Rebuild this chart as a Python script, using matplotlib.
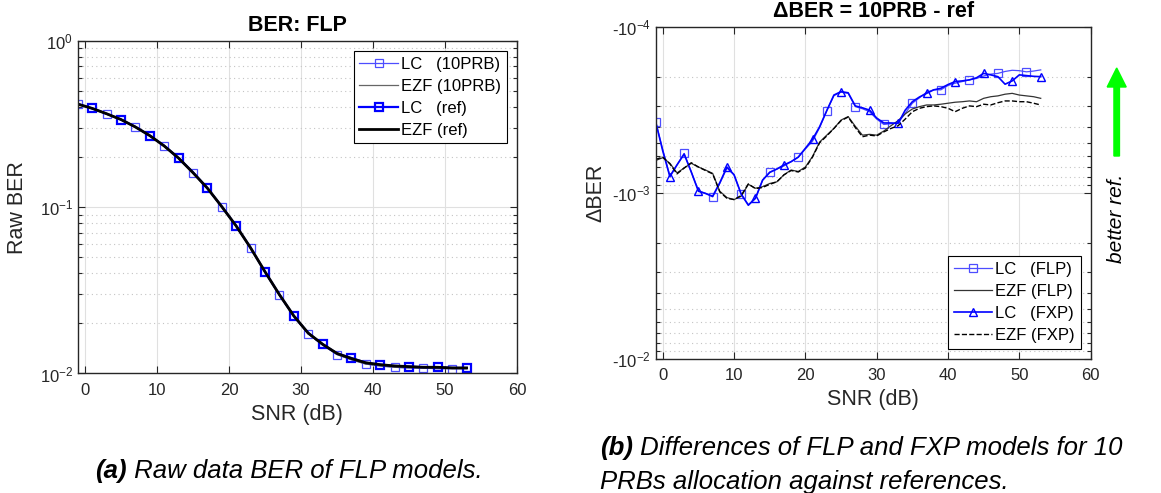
import numpy as np
import matplotlib
matplotlib.use('Agg')
import matplotlib.pyplot as plt
from matplotlib.ticker import FuncFormatter, LogLocator, NullFormatter
from matplotlib.patches import FancyArrow
from matplotlib.transforms import IdentityTransform

plt.rcParams['font.family'] = ['Liberation Sans', 'DejaVu Sans']
plt.rcParams['mathtext.fontset'] = 'custom'
plt.rcParams['mathtext.rm'] = 'Liberation Sans'
plt.rcParams['mathtext.it'] = 'Liberation Sans:italic'
plt.rcParams['mathtext.bf'] = 'Liberation Sans:bold'
plt.rcParams['mathtext.default'] = 'regular'

# ---- (a) raw BER, FLP models ----
snr_a = [-1, 1, 3, 5, 7, 9, 11, 13, 15, 17, 19, 21, 23, 25, 27,
         29, 31, 33, 35, 37, 39, 41, 43, 45, 47, 49, 51, 53]
ber_lc_10prb = [0.416, 0.391, 0.363, 0.335, 0.303, 0.268, 0.233, 0.196, 0.161, 0.129,
                0.1005, 0.0768, 0.0567, 0.0407, 0.0296, 0.0220, 0.0173, 0.0148, 0.0130,
                0.0121, 0.0114, 0.0111, 0.0109, 0.0108, 0.01075, 0.0107, 0.0107, 0.0107]
ber_ezf_10prb = [0.415, 0.391, 0.363, 0.335, 0.302, 0.268, 0.232, 0.196, 0.160, 0.129,
                 0.1003, 0.0767, 0.0566, 0.0407, 0.0296, 0.0221, 0.0173, 0.0149, 0.0130,
                 0.0121, 0.0114, 0.0111, 0.0109, 0.0108, 0.0108, 0.0107, 0.0107, 0.0107]
ber_lc_ref = [0.417, 0.392, 0.364, 0.336, 0.304, 0.269, 0.234, 0.197, 0.162, 0.130,
              0.1008, 0.0771, 0.0570, 0.0409, 0.0298, 0.0222, 0.0175, 0.0150, 0.0132,
              0.0124, 0.0116, 0.0113, 0.0111, 0.0110, 0.0109, 0.0109, 0.0108, 0.0108]
ber_ezf_ref = [0.416, 0.392, 0.364, 0.336, 0.303, 0.269, 0.233, 0.197, 0.161, 0.130,
               0.1006, 0.0770, 0.0569, 0.0409, 0.0298, 0.0222, 0.0175, 0.0150, 0.0132,
               0.0123, 0.0116, 0.0113, 0.0111, 0.0110, 0.0109, 0.0109, 0.0108, 0.0108]

# ---- (b) delta BER = 10PRB - ref ----
snr_b = list(range(-1, 54))
d_lc_flp = [-3.73e-4, -5.5e-4, -7.9e-4, -6.8e-4, -5.8e-4, -7.5e-4, -9.7e-4, -1.01e-3,
            -1.06e-3, -8.8e-4, -7.1e-4, -7.8e-4, -1.02e-3, -1.18e-3, -1.08e-3, -8.4e-4,
            -7.5e-4, -7.2e-4, -6.9e-4, -6.5e-4, -6.12e-4, -5.45e-4, -4.9e-4, -4.05e-4,
            -3.21e-4, -2.6e-4, -2.48e-4, -2.52e-4, -3.03e-4, -3.12e-4, -3.25e-4, -3.6e-4,
            -3.88e-4, -3.84e-4, -3.8e-4, -3.33e-4, -2.89e-4, -2.68e-4, -2.48e-4, -2.4e-4,
            -2.4e-4, -2.26e-4, -2.19e-4, -2.14e-4, -2.09e-4, -2.05e-4, -1.98e-4, -1.93e-4,
            -1.91e-4, -1.86e-4, -1.83e-4, -1.84e-4, -1.87e-4, -1.85e-4, -1.82e-4]
d_ezf_flp = [-6.4e-4, -6.15e-4, -6.65e-4, -7.6e-4, -7.1e-4, -6.65e-4, -7.0e-4, -7.3e-4,
             -7.65e-4, -9.8e-4, -1.07e-3, -1.1e-3, -1.05e-3, -8.9e-4, -9.4e-4, -9.2e-4,
             -8.8e-4, -8.6e-4, -7.8e-4, -7.3e-4, -7.45e-4, -7.0e-4, -6.05e-4, -4.95e-4,
             -4.5e-4, -4.1e-4, -3.65e-4, -3.48e-4, -3.98e-4, -4.5e-4, -4.45e-4, -4.5e-4,
             -4.25e-4, -3.95e-4, -3.68e-4, -3.35e-4, -3.13e-4, -3.03e-4, -2.96e-4, -2.96e-4,
             -2.93e-4, -2.89e-4, -2.85e-4, -2.83e-4, -2.8e-4, -2.83e-4, -2.7e-4, -2.64e-4,
             -2.61e-4, -2.55e-4, -2.52e-4, -2.58e-4, -2.61e-4, -2.64e-4, -2.7e-4]
d_lc_fxp = [-3.73e-4, -5.6e-4, -8.0e-4, -6.8e-4, -5.85e-4, -7.5e-4, -9.8e-4, -1.01e-3,
            -1.05e-3, -8.7e-4, -7.0e-4, -7.8e-4, -1.02e-3, -1.19e-3, -1.08e-3, -8.4e-4,
            -7.55e-4, -7.2e-4, -6.8e-4, -6.5e-4, -6.1e-4, -5.4e-4, -4.77e-4, -4.0e-4,
            -3.2e-4, -2.58e-4, -2.46e-4, -2.5e-4, -3.0e-4, -3.08e-4, -3.18e-4, -3.55e-4,
            -3.8e-4, -3.8e-4, -3.82e-4, -3.18e-4, -2.83e-4, -2.65e-4, -2.52e-4, -2.4e-4,
            -2.35e-4, -2.23e-4, -2.14e-4, -2.12e-4, -2.09e-4, -2.03e-4, -1.91e-4, -1.95e-4,
            -2.0e-4, -2.22e-4, -2.12e-4, -1.95e-4, -1.97e-4, -1.99e-4, -2.0e-4]
d_ezf_fxp = [-6.3e-4, -6.1e-4, -6.7e-4, -7.7e-4, -7.1e-4, -6.6e-4, -7.0e-4, -7.35e-4,
             -7.7e-4, -9.9e-4, -1.08e-3, -1.1e-3, -1.04e-3, -8.85e-4, -9.45e-4, -9.3e-4,
             -8.9e-4, -8.6e-4, -7.8e-4, -7.35e-4, -7.5e-4, -7.1e-4, -6.1e-4, -5.0e-4,
             -4.55e-4, -4.1e-4, -3.68e-4, -3.5e-4, -4.05e-4, -4.6e-4, -4.5e-4, -4.55e-4,
             -4.3e-4, -4.1e-4, -3.95e-4, -3.6e-4, -3.25e-4, -3.1e-4, -3.03e-4, -3.0e-4,
             -3.03e-4, -3.1e-4, -3.25e-4, -3.1e-4, -3.0e-4, -3.03e-4, -2.93e-4, -2.96e-4,
             -2.87e-4, -2.8e-4, -2.8e-4, -2.83e-4, -2.83e-4, -2.89e-4, -2.96e-4]

x_ticks = [0, 10, 20, 30, 40, 50, 60]

fig = plt.figure(figsize=(11.61, 4.93), dpi=100)
ax1 = fig.add_axes([0.0670, 0.2424, 0.3783, 0.675])
ax2 = fig.add_axes([0.5647, 0.2724, 0.3747, 0.6734])


def style(ax):
    ax.set_xlim(-1, 60)
    ax.set_xticks(x_ticks)
    ax.tick_params(which='both', direction='in', top=True, right=True,
                   labelsize=12, colors='#262626', labelcolor='#262626')
    ax.tick_params(axis='x', pad=7)
    ax.tick_params(which='major', length=5, width=0.8)
    ax.tick_params(which='minor', length=3, width=0.8)
    ax.grid(True, which='major', color='#e0e0e0', lw=0.8)
    ax.grid(True, which='minor', axis='y', color='#c4c4c4', ls=(0, (1, 3)), lw=0.8)
    ax.set_axisbelow(True)
    for s in ax.spines.values():
        s.set_color('#262626')
        s.set_linewidth(1.0)
    ax.set_xlabel('SNR (dB)', fontsize=15.5, color='#262626', labelpad=4)


def legend(ax, loc):
    lg = ax.legend(loc=loc, fontsize=12, fancybox=False, framealpha=1,
                   edgecolor='black', handlelength=2.3, handletextpad=0.2,
                   labelspacing=0.42, borderpad=0.35, borderaxespad=0.6)
    lg.get_frame().set_linewidth(0.8)


# left panel
ax1.plot(snr_a, ber_lc_10prb, '-s', color='#4d4dff', lw=0.9, ms=5.5, mfc='none',
         mew=0.9, markevery=(0, 2), label='LC   (10PRB)')
ax1.plot(snr_a, ber_ezf_10prb, '-', color='#666666', lw=0.9, label='EZF (10PRB)')
ax1.plot(snr_a, ber_lc_ref, '-s', color='#0000ff', lw=1.6, ms=5.5, mfc='none',
         mew=1.6, markevery=(1, 2), label='LC   (ref)')
ax1.plot(snr_a, ber_ezf_ref, '-', color='black', lw=2.0, label='EZF (ref)')
ax1.set_yscale('log')
ax1.set_ylim(1e-2, 1)
style(ax1)
ax1.yaxis.set_minor_locator(LogLocator(subs=np.arange(2, 10)))
ax1.yaxis.set_minor_formatter(NullFormatter())
ax1.yaxis.set_major_formatter(FuncFormatter(lambda v, p: '10$^{%d}$' % round(np.log10(v))))
ax1.set_title('BER: FLP', fontweight='bold', fontsize=15.5, pad=7)
ax1.set_ylabel('Raw BER', fontsize=15.5, color='#262626', labelpad=8)
legend(ax1, 'upper right')

# right panel
ax2.plot(snr_b, -np.array(d_lc_flp), '-s', color='#4d4dff', lw=0.9, ms=5.5, mfc='none',
         mew=0.9, markevery=(0, 4), label='LC   (FLP)')
ax2.plot(snr_b, -np.array(d_ezf_flp), '-', color='#333333', lw=0.9, label='EZF (FLP)')
ax2.plot(snr_b, -np.array(d_lc_fxp), '-^', color='#0000ff', lw=1.2, ms=6, mfc='none',
         mew=1.0, markevery=(2, 4), label='LC   (FXP)')
ax2.plot(snr_b, -np.array(d_ezf_fxp), '--', color='black', lw=1.0, label='EZF (FXP)')
ax2.set_yscale('log')
ax2.set_ylim(1e-2, 1e-4)
style(ax2)
ax2.yaxis.set_minor_locator(LogLocator(subs=np.arange(2, 10)))
ax2.yaxis.set_minor_formatter(NullFormatter())
ax2.yaxis.set_major_formatter(FuncFormatter(lambda v, p: '-10$^{%d}$' % round(np.log10(v))))
ax2.set_title('ΔBER = 10PRB - ref', fontweight='bold', fontsize=15.5, pad=7)
ax2.set_ylabel('ΔBER', fontsize=15.5, color='#262626', labelpad=4)
legend(ax2, 'lower right')

# green arrow + note
fig.add_artist(FancyArrow(1116.7, 493 - 156, 0, 88, width=5.5, head_width=19,
                          head_length=19, length_includes_head=True,
                          color='#00ff00', transform=IdentityTransform()))
fig.text(1116 / 1161, 1 - 218 / 493, 'better ref.', rotation=90, style='italic',
         fontsize=15, ha='center', va='center', color='black')

# captions
cap = 18.5
ta = fig.text(95 / 1161, 1 - 478 / 493, '(a)', fontsize=cap, style='italic',
              fontweight='bold', va='baseline', ha='left')
ax1.annotate(' Raw data BER of FLP models.', xy=(1, 0), xycoords=ta, fontsize=cap,
             style='italic', va='bottom', ha='left', annotation_clip=False)
tb = fig.text(600 / 1161, 1 - 455 / 493, '(b)', fontsize=cap, style='italic',
              fontweight='bold', va='baseline', ha='left')
ax2.annotate(' Differences of FLP and FXP models for 10', xy=(1, 0), xycoords=tb,
             fontsize=cap, style='italic', va='bottom', ha='left', annotation_clip=False)
fig.text(600 / 1161, 1 - 489 / 493, 'PRBs allocation against references.', fontsize=cap,
         style='italic', va='baseline', ha='left')

fig.savefig('out.png', dpi=100)
